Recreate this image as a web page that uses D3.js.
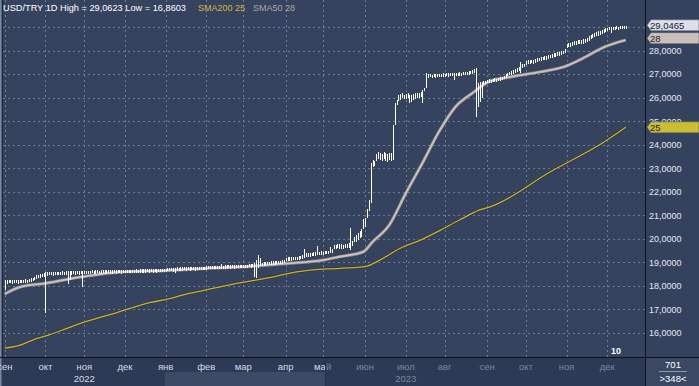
<!DOCTYPE html>
<html><head><meta charset="utf-8">
<script src="https://cdn.jsdelivr.net/npm/d3@7"></script>
<style>html,body{margin:0;padding:0;background:#2d3a55;overflow:hidden}svg{display:block}</style>
</head><body><svg id="c" width="699" height="386"></svg>
<script>
// ---- DATA (trading sessions since 1 Sep 2022) ----
const monthLabels = ["сен","окт","ноя","дек","янв","фев","мар","апр","май","июн","июл","авг","сен","окт","ноя","дек"];
const monthStartDay = [0,22,43,65,87,109,129,152,172,195,217,238,261,282,304,326];
const yearLabels = ["2022","2023"];
const yearLabelDay = [43,217];
const yGrid = [16,17,18,19,20,21,22,23,24,25,26,27,28,29];
const yTickLabels = [16,17,18,19,20,21,22,23,24,25,26,27,28];

const highSep22=[18.25,18.24,18.25,18.26,18.24,18.25,18.26,18.25,18.27,18.26,18.27,18.28,18.27,18.30,18.32,18.35,18.40,18.45,18.48,18.50,18.52,18.55];
const lowSep22 =[17.83,18.10,18.11,18.12,18.09,18.11,18.12,18.10,18.13,18.11,18.12,18.14,18.12,18.15,18.17,18.20,18.24,18.28,18.32,18.35,18.37,18.40];
const highOct22=[18.58,18.58,18.59,18.60,18.59,18.60,18.61,18.60,18.61,18.62,18.61,18.62,18.62,18.63,18.62,18.63,18.63,18.64,18.63,18.64,18.64];
const lowOct22 =[16.86,18.44,18.45,18.46,18.44,18.46,18.47,18.45,18.46,18.48,18.46,18.48,18.10,18.25,18.47,18.49,18.48,18.50,18.48,18.50,17.95];
const highNov22=[18.64,18.65,18.64,18.65,18.66,18.65,18.66,18.66,18.65,18.66,18.67,18.66,18.67,18.67,18.66,18.67,18.68,18.67,18.68,18.68,18.67,18.68];
const lowNov22 =[18.50,18.52,18.49,18.51,18.53,18.50,18.52,18.53,18.50,18.52,18.53,18.51,18.53,18.54,18.51,18.52,18.54,18.52,18.54,18.55,18.52,18.54];
const highDec22=[18.68,18.68,18.69,18.68,18.69,18.69,18.70,18.69,18.70,18.70,18.71,18.70,18.71,18.71,18.72,18.71,18.72,18.72,18.73,18.72,18.73,18.73];
const lowDec22 =[18.54,18.55,18.53,18.55,18.56,18.54,18.56,18.55,18.57,18.55,18.57,18.56,18.58,18.56,18.58,18.57,18.59,18.57,18.59,18.58,18.60,18.59];
const highJan23=[18.74,18.76,18.77,18.78,18.77,18.78,18.79,18.78,18.79,18.79,18.80,18.79,18.80,18.80,18.80,18.81,18.80,18.81,18.81,18.82,18.81,18.82];
const lowJan23 =[18.60,18.62,18.63,18.64,18.60,18.55,18.64,18.63,18.65,18.64,18.66,18.64,18.66,18.65,18.67,18.66,18.65,18.67,18.66,18.68,18.67,18.68];
const highFeb23=[18.83,18.84,18.84,18.85,18.86,18.85,18.86,18.86,18.92,18.86,18.87,18.87,18.88,18.87,18.88,18.88,18.89,18.88,18.89,18.90];
const lowFeb23 =[18.69,18.70,18.71,18.71,18.72,18.71,18.73,18.72,18.74,18.72,18.74,18.73,18.75,18.73,18.75,18.74,18.76,18.75,18.76,18.77];
const highMar23=[18.90,18.91,18.91,18.92,18.92,18.93,18.97,19.10,19.30,19.20,18.98,19.00,19.02,19.01,19.03,19.04,19.05,19.04,19.06,19.07,19.08,19.10,19.12];
const lowMar23 =[18.77,18.78,18.77,18.79,18.78,18.80,18.38,18.34,18.76,18.85,18.84,18.86,18.88,18.87,18.89,18.90,18.91,18.90,18.92,18.93,18.94,18.95,18.97];
const highApr23=[19.20,19.21,19.22,19.21,19.23,19.24,19.25,19.26,19.28,19.30,19.57,19.40,19.38,19.40,19.42,19.43,19.44,19.70,19.46,19.48];
const lowApr23 =[19.05,19.07,19.08,19.06,19.09,19.10,19.11,19.12,19.14,19.15,19.18,19.24,19.23,19.25,19.27,19.28,19.29,19.30,19.31,19.33];
const highMay23=[19.46,19.48,19.50,19.49,19.67,19.55,19.74,19.76,19.78,19.80,19.78,19.76,19.79,19.80,19.82,20.46,19.90,20.08,20.15,20.25,20.35,20.40,20.85];
const lowMay23 =[19.32,19.34,19.36,19.35,19.40,19.42,19.55,19.58,19.60,19.56,19.55,19.58,19.60,19.62,19.60,19.53,19.70,19.85,19.88,19.95,20.05,20.10,20.40];
const highJun23=[20.90,21.25,21.65,23.22,23.35,23.30,23.62,23.68,23.65,23.62,23.68,23.66,23.60,23.65,23.64,24.84,25.77,25.90,26.10,26.15,26.20,26.12];
const lowJun23 =[20.50,20.90,21.20,21.52,23.05,23.10,23.30,23.40,23.35,23.30,23.38,23.32,23.27,23.35,23.30,23.35,24.84,25.70,25.85,25.90,26.00,25.95];
const highJul23=[26.15,26.18,26.12,26.10,26.15,26.18,26.20,26.18,26.22,26.33,26.40,27.05,27.00,27.02,26.98,27.00,26.99,27.02,27.01,27.00,27.03];
const lowJul23 =[25.95,25.98,25.77,25.80,25.90,25.95,26.00,25.98,26.02,25.77,26.30,26.40,26.85,26.88,26.84,26.86,26.85,26.88,26.87,26.86,26.89];
const highAug23=[27.02,27.03,27.04,27.03,27.05,27.04,27.06,27.05,27.07,27.06,27.08,27.10,27.09,27.12,27.15,27.18,27.20,27.26,26.63,26.67,26.65,26.70,26.72];
const lowAug23 =[26.88,26.90,26.89,26.91,26.90,26.75,26.92,26.93,26.92,26.94,26.95,26.96,26.95,26.98,27.00,27.02,27.04,25.18,25.60,25.82,26.00,26.55,26.58];
const highSep23=[26.76,26.78,26.77,26.80,26.82,26.81,26.84,26.86,26.88,26.92,27.00,27.05,27.10,27.14,27.18,27.22,27.25,27.30,27.53,27.42,27.45];
const lowSep23 =[26.62,26.64,26.63,26.66,26.68,26.67,26.70,26.72,26.74,26.78,26.85,26.90,26.95,26.98,27.02,27.05,27.08,27.12,27.04,27.25,27.30];
const highOct23=[27.55,27.58,27.60,27.62,27.61,27.65,27.68,27.70,27.72,27.74,27.76,27.78,27.80,27.83,27.85,27.88,27.90,27.92,27.95,27.98,28.00,28.05];
const lowOct23 =[27.38,27.42,27.44,27.46,27.45,27.49,27.52,27.54,27.56,27.58,27.60,27.62,27.64,27.67,27.69,27.72,27.74,27.76,27.79,27.82,27.84,27.88];
const highNov23=[28.30,28.32,28.34,28.36,28.40,28.42,28.44,28.45,28.46,28.48,28.50,28.55,28.60,28.66,28.70,28.74,28.78,28.82,28.85,28.88,28.92,28.95];
const lowNov23 =[28.10,28.14,28.16,28.18,28.22,28.24,28.26,28.27,28.28,28.30,28.32,28.36,28.42,28.48,28.52,28.56,28.60,28.64,28.68,28.72,28.75,28.78];
const highDec23=[28.98,29.00,28.99,29.02,29.01,29.03,29.02,29.04,29.05,29.06,29.05];
const lowDec23 =[28.85,28.88,28.75,28.90,28.89,28.91,28.92,28.93,28.94,28.96,28.97];

const sma50Day =[0,8,22,42,62,87,109,131,153,172,181,194,199,208,217,226,235,244,253,262,273,290,303,311,325,336];
const sma50Val =[17.66,17.95,18.11,18.39,18.59,18.65,18.75,18.82,18.96,19.10,19.24,19.45,19.87,20.58,21.94,23.22,24.56,25.62,26.19,26.68,26.87,27.10,27.32,27.60,28.17,28.45];
const sma200Day=[0,7,15,24,34,42,52,61,69,79,88,96,106,123,141,159,181,195,203,214,225,236,246,257,263,295,326,336];
const sma200Val=[15.36,15.45,15.70,15.92,16.21,16.44,16.67,16.88,17.08,17.30,17.44,17.61,17.78,18.07,18.32,18.61,18.75,18.82,19.10,19.60,19.95,20.38,20.80,21.23,21.37,22.84,24.20,24.74];

const lastPrice = "29,0465", sma50Label = "28", sma200Label = "25";
const lastPriceVal = 29.0465;
const headerText = "USD/TRY 1D High = 29,0623 Low = 16,8603";
const visibleBars = 348, totalBars = 701, cornerMark = "10";

// ---- BUILD ----
const highs = [].concat(highSep22,highOct22,highNov22,highDec22,highJan23,highFeb23,highMar23,highApr23,highMay23,highJun23,highJul23,highAug23,highSep23,highOct23,highNov23,highDec23);
const lows  = [].concat(lowSep22,lowOct22,lowNov22,lowDec22,lowJan23,lowFeb23,lowMar23,lowApr23,lowMay23,lowJun23,lowJul23,lowAug23,lowSep23,lowOct23,lowNov23,lowDec23);
const bars = highs.map((h,i)=>({i, h, l: lows[i]}));

const svg = d3.select("#c");
const W=699,H=386, PL=3, PR=646, PB=357;
const x = d3.scaleLinear().domain([-1,347]).range([PL,PR]);
const y = d3.scaleLinear().domain([16,28]).range([333,50.6]);

// backgrounds
svg.append("rect").attr("x",0).attr("y",0).attr("width",W).attr("height",H).attr("fill","#2d3a55");
svg.append("rect").attr("x",0).attr("y",0).attr("width",PR).attr("height",PB).attr("fill","#35435f");
svg.append("rect").attr("x",PR).attr("y",0).attr("width",W-PR).attr("height",PB).attr("fill","#34425e");
svg.append("rect").attr("x",165).attr("y",372).attr("width",160).attr("height",14).attr("fill","#3d4a66");
svg.append("rect").attr("x",PR).attr("y",PB).attr("width",W-PR).attr("height",H-PB).attr("fill","#3b4864");

svg.append("clipPath").attr("id","pc").append("rect").attr("x",PL).attr("y",0).attr("width",PR-PL).attr("height",PB);
const plot = svg.append("g").attr("clip-path","url(#pc)");

// grid
plot.selectAll("line.hg").data(yGrid).join("line")
  .attr("x1",PL).attr("x2",PR).attr("y1",d=>Math.round(y(d))+0.5).attr("y2",d=>Math.round(y(d))+0.5)
  .attr("stroke","#6a7a99").attr("stroke-dasharray","2,3").attr("stroke-width",1);
plot.selectAll("line.vg").data(monthStartDay).join("line")
  .attr("y1",0).attr("y2",PB).attr("x1",d=>Math.round(x(d))+0.5).attr("x2",d=>Math.round(x(d))+0.5)
  .attr("stroke","#6a7a99").attr("stroke-dasharray","2,3").attr("stroke-width",1);

// SMA200
const line = d3.line().x(d=>x(d[0])).y(d=>y(d[1])).curve(d3.curveMonotoneX);
const s200 = sma200Day.map((d,i)=>[d,sma200Val[i]]);
const s50 = sma50Day.map((d,i)=>[d,sma50Val[i]]);
plot.append("path").attr("d",line(s200)).attr("fill","none").attr("stroke","#2a2a1c").attr("stroke-width",2.6).attr("opacity",0.5);
plot.append("path").attr("d",line(s200)).attr("fill","none").attr("stroke","#cdb12e").attr("stroke-width",1.3);
// SMA50
plot.append("path").attr("d",line(s50)).attr("fill","none").attr("stroke","#8d8782").attr("stroke-width",3.2);
plot.append("path").attr("d",line(s50)).attr("fill","none").attr("stroke","#c9c2bc").attr("stroke-width",1.8);

// bars
plot.selectAll("line.bar").data(bars).join("line")
  .attr("x1",d=>Math.round(x(d.i))+0.5).attr("x2",d=>Math.round(x(d.i))+0.5)
  .attr("y1",d=>Math.round(y(d.h)))
  .attr("y2",d=>Math.max(Math.round(y(d.l)),Math.round(y(d.h))+3))
  .attr("stroke","#ffffff").attr("stroke-width",1).attr("shape-rendering","crispEdges");

// borders
svg.append("rect").attr("x",0).attr("y",0).attr("width",1.5).attr("height",H).attr("fill","#7a87a0");
svg.append("line").attr("x1",2.5).attr("x2",2.5).attr("y1",0).attr("y2",PB).attr("stroke","#1e2638");
svg.append("line").attr("x1",PR-0.5).attr("x2",PR-0.5).attr("y1",0).attr("y2",H).attr("stroke","#0d1018");
svg.append("line").attr("x1",0).attr("x2",W).attr("y1",PB+0.5).attr("y2",PB+0.5).attr("stroke","#0d1018");

const font = "'Liberation Sans', Arial, sans-serif";
// y labels
svg.selectAll("text.yl").data(yTickLabels).join("text")
  .attr("x",649).attr("y",d=>y(d)+3.3).text(d=>d3.format(".4f")(d).replace(".",","))
  .attr("font-family",font).attr("font-size",9).attr("fill","#e4e8f0");

// value boxes
function tag(v, label, fill, txt){
  const yc = y(v);
  const g = svg.append("g");
  g.append("path").attr("d",`M${PR+1},${yc} L${PR+5},${yc-5.5} L${W},${yc-5.5} L${W},${yc+5.5} L${PR+5},${yc+5.5} Z`)
    .attr("fill",fill).attr("stroke","#55607a").attr("stroke-width",0.6);
  g.append("text").attr("x",PR+4).attr("y",yc+3.5).text(label)
    .attr("font-family",font).attr("font-size",9.5).attr("fill",txt);
}
tag(sma200Val[sma200Val.length-1], sma200Label, "#cbbd32", "#1b1f2c");
tag(sma50Val[sma50Val.length-1]+0.08, sma50Label, "#c9c1b9", "#1b1f2c");
tag(lastPriceVal+0.03, lastPrice, "#dcdfe6", "#1b2238");

// header
const hdr = svg.append("g").attr("font-family",font).attr("font-size",9.5);
hdr.append("text").attr("x",3).attr("y",11).text(headerText).attr("fill","#ffffff").attr("textLength",183).attr("lengthAdjust","spacingAndGlyphs");
hdr.append("text").attr("x",198).attr("y",11).text("SMA200 " + sma200Label).attr("fill","#d8b640").attr("textLength",47).attr("lengthAdjust","spacingAndGlyphs");
hdr.append("text").attr("x",253).attr("y",11).text("SMA50 " + sma50Label).attr("fill","#a9a6a6").attr("textLength",42).attr("lengthAdjust","spacingAndGlyphs");

// x axis labels
const xa = svg.append("g").attr("font-family",font).attr("font-size",9.5).attr("fill","#d4dae6");
xa.selectAll("text.m").data(monthLabels).join("text")
  .attr("x",(d,i)=>x(monthStartDay[i])).attr("y",370).attr("text-anchor","middle").text(d=>d);
xa.selectAll("text.yr").data(yearLabels).join("text")
  .attr("x",(d,i)=>x(yearLabelDay[i])).attr("y",382).attr("text-anchor","middle").text(d=>d);
// dim overlay on the right part of time axis
svg.append("rect").attr("x",325).attr("y",PB+1).attr("width",PR-1-325).attr("height",H-PB-1).attr("fill","#2e3b57").attr("opacity",0.55);
svg.append("line").attr("x1",325.5).attr("x2",325.5).attr("y1",PB+1).attr("y2",H).attr("stroke","#26314a");

// corner label
svg.append("text").attr("x",611).attr("y",354).text(cornerMark).attr("font-family",font).attr("font-size",9).attr("font-weight","bold").attr("fill","#ffffff");

// bottom-right counters
svg.append("text").attr("x",673).attr("y",368).attr("text-anchor","middle").text(totalBars).attr("font-family",font).attr("font-size",9.5).attr("fill","#ffffff");
svg.append("line").attr("x1",659).attr("x2",687).attr("y1",371.5).attr("y2",371.5).attr("stroke","#8e98ac");
svg.append("text").attr("x",673).attr("y",382).attr("text-anchor","middle").text(">"+visibleBars+"<").attr("font-family",font).attr("font-size",9.5).attr("fill","#ffffff");
</script></body></html>
